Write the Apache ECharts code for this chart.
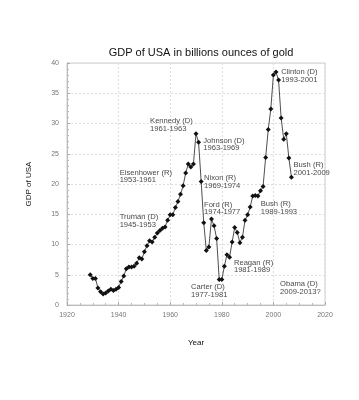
<!DOCTYPE html>
<html><head><meta charset="utf-8">
<script src="https://cdn.jsdelivr.net/npm/echarts@6/dist/echarts.min.js"></script>
<style>html,body{margin:0;padding:0;background:#fff}#c{width:359px;height:400px}</style>
</head><body><div id="c"></div>
<script>
var years = [1929,1930,1931,1932,1933,1934,1935,1936,1937,1938,1939,1940,1941,1942,1943,1944,1945,1946,1947,1948,1949,1950,1951,1952,1953,1954,1955,1956,1957,1958,1959,1960,1961,1962,1963,1964,1965,1966,1967,1968,1969,1970,1971,1972,1973,1974,1975,1976,1977,1978,1979,1980,1981,1982,1983,1984,1985,1986,1987,1988,1989,1990,1991,1992,1993,1994,1995,1996,1997,1998,1999,2000,2001,2002,2003,2004,2005,2006,2007];
var gdpGold = [5.0,4.4,4.4,2.8,2.2,1.8,2.0,2.3,2.6,2.4,2.6,2.9,3.9,4.8,6.0,6.3,6.3,6.4,6.9,7.8,7.6,8.8,9.8,10.6,10.4,11.2,11.9,12.3,12.7,12.9,14.0,14.9,14.9,16.1,17.1,18.3,19.7,21.8,23.3,22.8,23.3,28.3,26.9,20.4,13.6,9.0,9.6,14.2,13.1,11.0,4.2,4.2,6.4,8.3,7.9,10.4,12.8,12.0,10.3,11.2,14.0,14.9,16.2,18.0,18.1,18.0,18.9,19.6,24.4,29.0,32.4,38.0,38.5,37.2,30.9,27.4,28.3,24.3,21.1];
var xTicks = [1920,1940,1960,1980,2000,2020];
var yTicks = [0,5,10,15,20,25,30,35,40];
var presidents = ['Kennedy (D)\n1961-1963','Johnson (D)\n1963-1969','Nixon (R)\n1969-1974','Ford (R)\n1974-1977','Carter (D)\n1977-1981','Reagan (R)\n1981-1989','Bush (R)\n1989-1993','Obama (D)\n2009-2013?','Clinton (D)\n1993-2001','Bush (R)\n2001-2009','Eisenhower (R)\n1953-1961','Truman (D)\n1945-1953'];
var labelAnchors = [[1952.2,31.0],[1972.8,27.8],[1973.1,21.6],[1973.1,17.2],[1968.1,3.55],[1984.7,7.6],[1995.1,17.3],[2002.6,4.1],[2003.0,39.1],[2007.8,23.75],[1940.4,22.5],[1940.4,15.1]];

var font = '"Liberation Sans", Arial, Helvetica, sans-serif';
var chart = echarts.init(document.getElementById('c'), null, {renderer:'canvas'});
var lineData = years.map(function(y,i){return [y, gdpGold[i]];});
var annData = presidents.map(function(t,i){return {value:labelAnchors[i], name:t};});
chart.setOption({
  backgroundColor:'#fff',
  animation:false,
  title:{text:'GDP of USA in billions ounces of gold', left:196, textAlign:'center', top:42,
    textStyle:{fontFamily:font, fontSize:11, fontWeight:'normal', color:'#111'}},
  grid:{left:67, right:34, top:63, bottom:95, show:true, borderColor:'#ccc', borderWidth:1},
  xAxis:{type:'value', min:1920, max:2020, interval:20,
    name:'Year', nameLocation:'middle', nameGap:34,
    nameTextStyle:{fontFamily:font, fontSize:8, color:'#111'},
    axisLine:{lineStyle:{color:'#bbb', width:1}},
    axisTick:{inside:true, length:3, lineStyle:{color:'#aaa'}},
    minorTick:{show:true, splitNumber:4, length:2, lineStyle:{color:'#bbb'}},
    axisLabel:{fontFamily:font, fontSize:7, color:'#777', margin:7,
      formatter:function(v){return xTicks.indexOf(v) >= 0 ? String(v) : '';}},
    splitLine:{show:true, lineStyle:{color:'#ddd', type:[2,2]}}},
  yAxis:{type:'value', min:0, max:40, interval:5,
    name:'GDP of USA', nameLocation:'middle', nameGap:34, nameRotate:90,
    nameTextStyle:{fontFamily:font, fontSize:8, color:'#111'},
    axisLine:{show:true, lineStyle:{color:'#bbb', width:1}},
    axisTick:{show:true, inside:true, length:3, lineStyle:{color:'#aaa'}},
    minorTick:{show:true, splitNumber:5, length:2, lineStyle:{color:'#bbb'}},
    axisLabel:{fontFamily:font, fontSize:7, color:'#777', margin:8,
      formatter:function(v){return yTicks.indexOf(v) >= 0 ? String(v) : '';}},
    splitLine:{show:true, lineStyle:{color:'#ddd', type:[2,2]}}},
  series:[
    {type:'line', data:lineData, symbol:'diamond', symbolSize:5,
      lineStyle:{color:'#222', width:0.8}, itemStyle:{color:'#111'}},
    {type:'scatter', data:annData, symbolSize:0, silent:true,
      label:{show:true, position:[0,0], align:'left', verticalAlign:'top',
        formatter:function(p){return p.name;},
        fontFamily:font, fontSize:7.6, lineHeight:7.5, color:'#111'}}
  ]
});
</script></body></html>
